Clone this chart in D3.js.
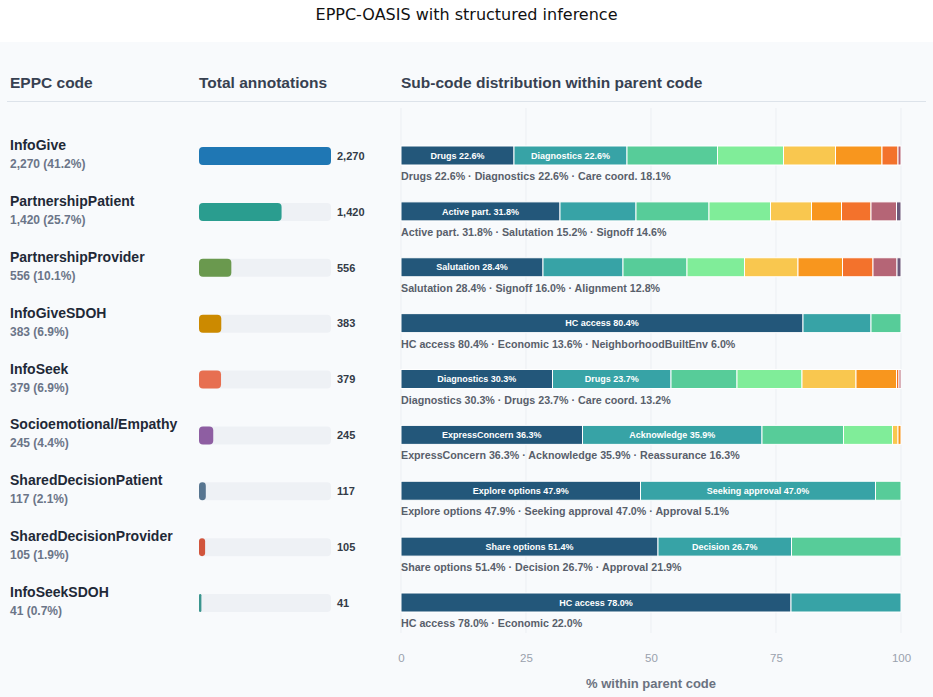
<!DOCTYPE html>
<html>
<head>
<meta charset="utf-8">
<script src="https://cdn.jsdelivr.net/npm/d3@7"></script>
<style>
  body { margin: 0; background: #ffffff; }
  svg { display: block; font-family: "Liberation Sans", Arial, sans-serif; }
</style>
</head>
<body>
<svg width="933" height="697"></svg>
<script>
// parent codes, totals, share of all annotations
const codes = ['InfoGive', 'PartnershipPatient', 'PartnershipProvider', 'InfoGiveSDOH', 'InfoSeek',
  'Socioemotional/Empathy', 'SharedDecisionPatient', 'SharedDecisionProvider', 'InfoSeekSDOH'];
const totals = [2270, 1420, 556, 383, 379, 245, 117, 105, 41];
const shares = [41.2, 25.7, 10.1, 6.9, 6.9, 4.4, 2.1, 1.9, 0.7];
const codeColors = ['#1f77b4', '#2a9d8f', '#6a994e', '#cc8a00', '#e76f51', '#8e5ea2', '#577590', '#d1553c', '#3a958e'];

// sub-code shares (%) within each parent, largest first
const subPct = [
  [22.6, 22.6, 18.1, 13.2, 10.4, 9.3, 3.2, 0.6],
  [31.8, 15.2, 14.6, 12.3, 8.2, 6.0, 5.9, 5.1, 0.9],
  [28.4, 16.0, 12.8, 11.5, 10.7, 8.9, 6.1, 4.8, 0.8],
  [80.4, 13.6, 6.0],
  [30.3, 23.7, 13.2, 13.0, 10.8, 8.1, 0.5, 0.4],
  [36.3, 35.9, 16.3, 9.8, 1.1, 0.6],
  [47.9, 47.0, 5.1],
  [51.4, 26.7, 21.9],
  [78.0, 22.0]
];
// names of the three largest sub-codes
const subNames = [
  ['Drugs', 'Diagnostics', 'Care coord.'],
  ['Active part.', 'Salutation', 'Signoff'],
  ['Salutation', 'Signoff', 'Alignment'],
  ['HC access', 'Economic', 'NeighborhoodBuiltEnv'],
  ['Diagnostics', 'Drugs', 'Care coord.'],
  ['ExpressConcern', 'Acknowledge', 'Reassurance'],
  ['Explore options', 'Seeking approval', 'Approval'],
  ['Share options', 'Decision', 'Approval'],
  ['HC access', 'Economic']
];
const segColors = ['#23577a', '#37a3a6', '#57cc99', '#80ed99', '#f9c74f', '#f8961e', '#f3722c', '#b56576', '#6d597a'];
const pctTicks = [0, 25, 50, 75, 100];

const svg = d3.select('svg');
const width = +svg.attr('width');
const height = +svg.attr('height');

svg.append('rect').attr('x', 0).attr('y', 42).attr('width', width).attr('height', height - 42).attr('fill', '#f8fafc');

svg.append('text')
  .attr('x', width / 2).attr('y', 20)
  .attr('text-anchor', 'middle')
  .style('font-family', '"DejaVu Sans", sans-serif')
  .style('font-size', '16px')
  .attr('fill', '#111')
  .text('EPPC-OASIS with structured inference');

// headers
const headers = [['EPPC code', 10], ['Total annotations', 199], ['Sub-code distribution within parent code', 401]];
svg.selectAll('.hdr').data(headers).enter().append('text')
  .attr('x', d => d[1]).attr('y', 87.5)
  .attr('font-size', 15.5).attr('font-weight', 'bold').attr('fill', '#374151')
  .text(d => d[0]);
svg.append('line').attr('x1', 7).attr('x2', 926).attr('y1', 101.5).attr('y2', 101.5)
  .attr('stroke', '#dde3ea').attr('stroke-width', 1.2);

const x = d3.scaleLinear().domain([0, 100]).range([401, 901]);
const y = d3.scalePoint().domain(codes).range([155.5, 602.5]);
const tx = d3.scaleLinear().domain([0, d3.max(totals)]).range([0, 132]);

// grid
svg.selectAll('.grid').data(pctTicks).enter().append('line')
  .attr('x1', d => x(d)).attr('x2', d => x(d))
  .attr('y1', 108).attr('y2', 633)
  .attr('stroke', '#eceff3').attr('stroke-width', 1);

const rows = svg.selectAll('.row').data(codes).enter().append('g')
  .attr('transform', d => `translate(0,${y(d)})`);

rows.append('text').attr('x', 10).attr('y', -5.5)
  .attr('font-size', 14).attr('font-weight', 'bold').attr('fill', '#1f2937')
  .text(d => d);
rows.append('text').attr('x', 10).attr('y', 12.5)
  .attr('font-size', 12).attr('font-weight', 'bold').attr('fill', '#6b7588')
  .text((d, i) => `${d3.format(',')(totals[i])} (${shares[i].toFixed(1)}%)`);

rows.append('rect').attr('x', 199).attr('y', -8.5).attr('width', 132).attr('height', 18)
  .attr('rx', 4).attr('fill', '#eef1f5');
rows.append('rect').attr('x', 199).attr('y', -8.5)
  .attr('width', (d, i) => Math.max(2, tx(totals[i]))).attr('height', 18)
  .attr('rx', (d, i) => Math.min(4, tx(totals[i]) / 2)).attr('fill', (d, i) => codeColors[i]);
rows.append('text').attr('x', 337).attr('y', 0.5).attr('dy', '0.35em')
  .attr('font-size', 11).attr('font-weight', 'bold').attr('fill', '#333b47')
  .text((d, i) => d3.format(',')(totals[i]));

// stacked sub-code bars
rows.each(function(d, i) {
  const g = d3.select(this);
  let acc = 0;
  const segs = subPct[i].map((p, j) => {
    const s = { p, j, x0: acc, name: subNames[i][j] };
    acc += p;
    return s;
  });
  g.selectAll('.seg').data(segs).enter().append('rect')
    .attr('x', s => x(s.x0)).attr('y', -9.5)
    .attr('width', s => x(s.x0 + s.p) - x(s.x0)).attr('height', 19)
    .attr('fill', s => segColors[s.j])
    .attr('stroke', '#ffffff').attr('stroke-width', 1);
  g.selectAll('.segl').data(segs.filter(s => s.p >= 22.5)).enter().append('text')
    .attr('x', s => x(s.x0 + s.p / 2)).attr('y', 0).attr('dy', '0.35em')
    .attr('text-anchor', 'middle').attr('font-size', 9).attr('font-weight', 'bold').attr('fill', '#ffffff')
    .text(s => `${s.name} ${s.p.toFixed(1)}%`);
  g.append('text').attr('x', 401).attr('y', 24.5)
    .attr('font-size', 10.7).attr('font-weight', 'bold').attr('fill', '#585f6b')
    .text(segs.slice(0, 3).filter(s => s.name).map(s => `${s.name} ${s.p.toFixed(1)}%`).join(' · '));
});

// axis
const axisG = svg.append('g').attr('transform', 'translate(0,650)')
  .call(d3.axisBottom(x).tickValues(pctTicks).tickSize(0).tickPadding(4));
axisG.select('.domain').remove();
axisG.selectAll('text').attr('font-size', 11.5).attr('fill', '#9aa1ad')
  .style('font-family', '"Liberation Sans", Arial, sans-serif');

svg.append('text').attr('x', x(50)).attr('y', 688)
  .attr('text-anchor', 'middle').attr('font-size', 13).attr('font-weight', 'bold').attr('fill', '#6b7280')
  .text('% within parent code');
</script>
</body>
</html>
